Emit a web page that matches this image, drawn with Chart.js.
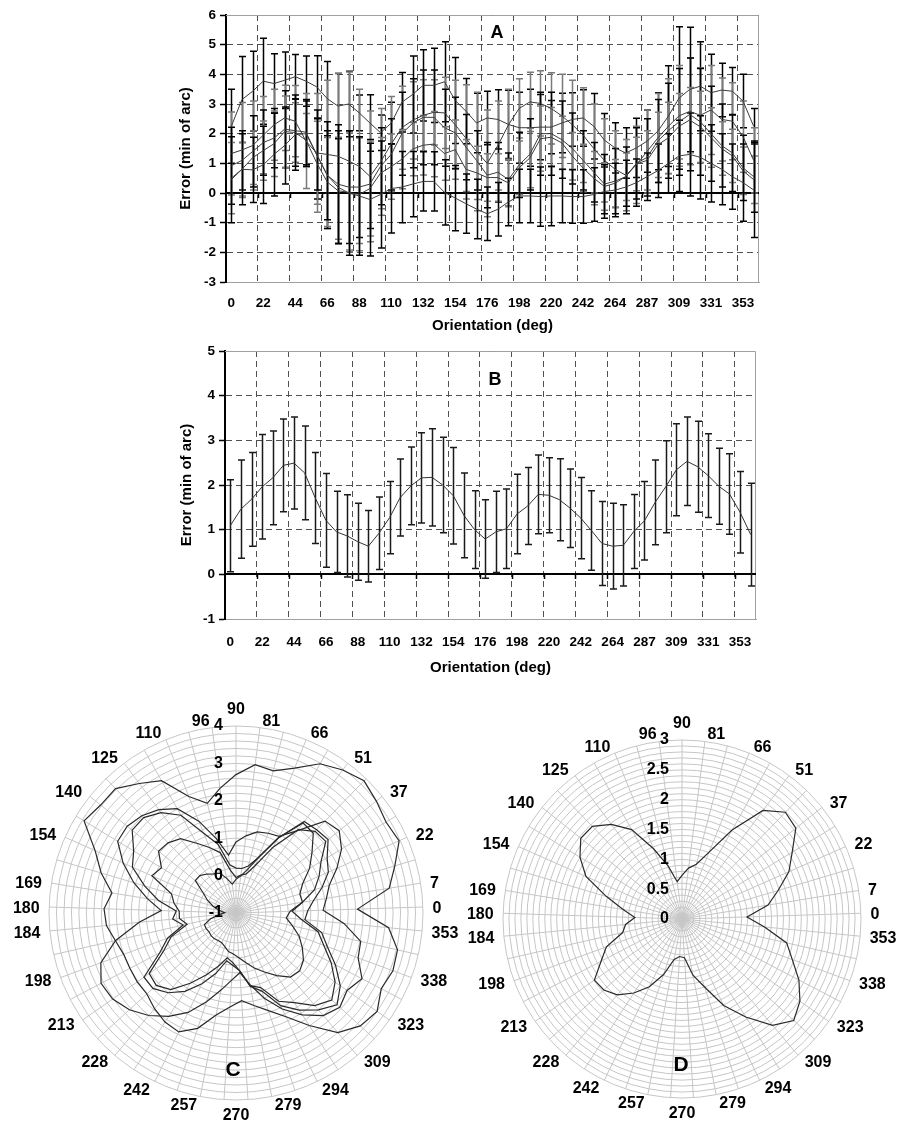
<!DOCTYPE html>
<html>
<head>
<meta charset="utf-8">
<script src="https://cdn.jsdelivr.net/npm/chart.js@4.4.1/dist/chart.umd.min.js"></script>
<style>
  html, body { margin: 0; padding: 0; background: #fff; overflow: hidden; }
  #page { position: relative; width: 899px; height: 1122px; }
  canvas { position: absolute; }
  .tag { position: absolute; font-family: "Liberation Sans", Arial, sans-serif; font-weight: bold;
         transform: translate(-50%, -50%); line-height: 1; }
</style>
</head>
<body>
<div id="page">
  <canvas id="chartA" width="601" height="339" style="left:173px;top:0px"></canvas>
  <canvas id="chartB" width="597" height="343" style="left:174px;top:338px"></canvas>
  <canvas id="chartC" width="474" height="442" style="left:0px;top:680px"></canvas>
  <canvas id="chartD" width="449" height="442" style="left:450px;top:680px"></canvas>
  <div class="tag" style="left:497px;top:32px;font-size:18px">A</div>
  <div class="tag" style="left:495px;top:379px;font-size:18px">B</div>
  <div class="tag" style="left:233px;top:1068px;font-size:21px">C</div>
  <div class="tag" style="left:681px;top:1063px;font-size:21px">D</div>
</div>
<script>
// Data ----------------------------------------------------------------------->
// orientation of each sample (deg), 0..360 in 50 steps
const orientation = [0, 7, 15, 22, 29, 37, 44, 51, 59, 66,
  73, 81, 88, 96, 103, 110, 118, 125, 132, 140,
  147, 154, 162, 169, 176, 184, 191, 198, 206, 213,
  220, 228, 235, 242, 250, 257, 264, 272, 279, 287,
  294, 301, 309, 316, 323, 331, 338, 345, 353, 360];

// panel A: one curve per observer
const obs1 = [2.25, 3.15, 3.43, 3.77, 3.69, 3.80, 3.92, 3.77, 3.58, 3.18,
  2.93, 3.00, 2.70, 2.36, 2.03, 2.36, 3.06, 3.32, 3.63, 3.63,
  3.75, 3.12, 2.76, 2.36, 2.53, 2.48, 2.31, 2.20, 2.20, 2.22,
  2.22, 2.36, 2.48, 2.53, 2.25, 1.78, 1.52, 1.35, 1.52, 1.75,
  2.08, 2.59, 3.20, 3.49, 3.60, 3.38, 3.47, 3.43, 3.10, 2.25];
const obs2 = [1.33, 1.45, 1.60, 1.95, 2.30, 2.53, 2.42, 1.75, 1.35, 1.30,
  1.24, 1.08, 0.90, 0.56, 1.05, 1.65, 2.20, 2.45, 2.62, 2.72,
  2.70, 2.30, 1.85, 1.40, 1.00, 1.60, 2.30, 2.85, 3.07, 3.02,
  2.85, 2.60, 2.30, 1.95, 1.50, 1.10, 0.80, 0.60, 0.95, 1.40,
  1.85, 2.25, 2.60, 2.75, 2.62, 2.80, 2.48, 2.42, 1.90, 1.10];
const obs3 = [0.92, 1.10, 1.40, 1.70, 1.85, 2.15, 2.10, 2.05, 1.30, 0.60,
  0.30, 0.20, 0.20, 0.30, 0.90, 1.30, 2.00, 2.35, 2.55, 2.55,
  2.20, 2.03, 1.55, 1.10, 0.60, 0.70, 0.45, 0.95, 1.30, 2.00,
  2.00, 1.80, 1.50, 1.10, 0.70, 0.30, 0.40, 0.55, 1.00, 1.20,
  1.75, 2.10, 2.40, 2.65, 2.40, 2.00, 1.60, 1.35, 0.85, 0.55];
const obs4 = [0.50, 0.80, 1.19, 1.43, 1.66, 2.07, 2.04, 1.78, 1.02, 0.37,
  0.08, 0.02, -0.05, 0.15, 0.67, 0.89, 1.14, 1.48, 1.61, 1.65,
  1.33, 1.46, 0.80, 0.68, 0.52, 0.52, 0.34, 0.85, 1.18, 1.83,
  1.88, 1.69, 1.24, 0.84, 0.50, 0.22, 0.33, 0.55, 0.98, 1.10,
  1.62, 1.86, 2.25, 2.46, 2.23, 1.87, 1.50, 1.25, 0.75, 0.45];
const obs5 = [0.45, 0.80, 0.78, 0.95, 1.30, 1.60, 1.97, 2.00, 1.30, 0.60,
  0.20, 0.00, -0.10, -0.22, -0.05, 0.15, 0.20, 0.30, 0.39, 0.39,
  0.02, -0.17, -0.36, -0.54, -0.70, -0.55, -0.30, -0.10, -0.10, -0.12,
  -0.10, -0.10, -0.12, -0.12, -0.05, 0.05, 0.10, 0.20, 0.35, 0.55,
  0.75, 1.00, 1.25, 1.30, 1.20, 1.00, 0.80, 0.55, 0.35, 0.10];

// panel A error bars (half length)
const err1 = [1.25, 1.45, 1.35, 1.45, 1.00, 0.95, 0.75, 0.85, 1.05, 1.25,
  1.10, 1.10, 0.60, 0.95, 0.60, 0.70, 1.00, 1.30, 1.20, 1.25,
  1.35, 1.45, 1.10, 1.00, 0.90, 1.00, 1.15, 1.20, 1.30, 1.10,
  0.90, 1.00, 0.90, 0.95, 1.10, 0.90, 0.85, 0.85, 1.00, 1.05,
  1.30, 1.70, 2.40, 2.10, 1.50, 1.30, 0.90, 0.80, 0.90, 0.60];
const err2 = [1.40, 1.60, 1.50, 1.30, 1.20, 1.10, 1.20, 1.60, 2.00, 2.50,
  2.80, 3.00, 2.60, 2.20, 1.80, 1.60, 1.40, 1.30, 1.20, 1.10,
  1.20, 1.50, 1.80, 2.00, 1.80, 1.50, 1.20, 1.00, 1.00, 1.10,
  1.20, 1.40, 1.50, 1.60, 1.50, 1.40, 1.30, 1.20, 1.30, 1.40,
  1.50, 1.60, 1.70, 1.80, 1.60, 1.50, 1.40, 1.30, 1.20, 1.10];
const err3 = [1.30, 1.00, 1.20, 1.10, 1.00, 1.30, 1.20, 1.10, 1.50, 1.80,
  2.00, 1.90, 1.70, 1.50, 1.30, 1.20, 1.40, 1.50, 1.60, 1.60,
  1.30, 1.20, 1.10, 1.00, 1.10, 1.00, 0.90, 1.10, 1.20, 1.40,
  1.40, 1.30, 1.20, 1.00, 1.00, 1.00, 1.10, 1.00, 1.20, 1.30,
  1.40, 1.60, 1.80, 1.90, 1.80, 1.60, 1.40, 1.30, 1.10, 1.20];
const err4 = [1.20, 0.90, 0.90, 1.00, 1.10, 1.20, 1.00, 0.90, 1.40, 1.50,
  1.80, 2.00, 1.90, 1.60, 1.20, 1.10, 1.00, 0.90, 1.00, 1.10,
  0.90, 1.00, 1.00, 0.90, 0.80, 0.80, 0.80, 0.90, 1.00, 1.10,
  1.00, 0.90, 0.80, 0.80, 0.90, 0.80, 0.80, 0.80, 0.90, 1.00,
  1.10, 1.20, 1.10, 1.10, 1.20, 1.00, 0.90, 0.90, 0.80, 0.80];
const err5 = [1.45, 1.20, 1.10, 1.30, 1.40, 1.30, 1.20, 1.10, 1.20, 1.50,
  1.90, 2.10, 2.00, 1.90, 1.80, 1.50, 1.20, 1.10, 1.00, 1.00,
  1.10, 1.10, 1.00, 1.00, 0.90, 0.90, 0.80, 0.90, 0.90, 1.00,
  1.00, 0.90, 0.90, 0.90, 0.90, 0.90, 0.90, 0.90, 0.80, 0.80,
  0.90, 1.00, 1.20, 1.40, 1.40, 1.30, 1.20, 1.10, 1.30, 1.60];

// panel B: mean over observers and its error
const meanErr = [1.09, 1.46, 1.68, 1.96, 2.16, 2.44, 2.49, 2.27, 1.71, 1.21,
  0.95, 0.86, 0.73, 0.63, 0.92, 1.27, 1.72, 1.98, 2.16, 2.17,
  2.00, 1.76, 1.32, 1.00, 0.79, 0.95, 1.02, 1.35, 1.53, 1.79,
  1.77, 1.67, 1.48, 1.26, 0.98, 0.69, 0.63, 0.65, 0.96, 1.20,
  1.61, 1.96, 2.34, 2.53, 2.41, 2.21, 1.97, 1.80, 1.39, 0.89];
const meanSd = [1.03, 1.10, 1.05, 1.17, 1.05, 1.04, 1.03, 1.05, 1.02, 1.05,
  0.91, 0.92, 0.86, 0.80, 0.81, 0.81, 0.86, 0.87, 1.01, 1.09,
  1.07, 1.08, 0.95, 0.87, 0.88, 0.91, 0.89, 0.89, 0.86, 0.88,
  0.84, 0.92, 0.88, 0.91, 0.89, 0.94, 0.96, 0.91, 0.83, 0.88,
  0.95, 1.03, 1.03, 0.99, 1.02, 0.94, 0.85, 0.90, 0.91, 1.15];

// polar panels: spoke names clockwise from the top, and ring values
const polarLabels = ['90', '81', '', '66', '', '51', '', '37', '', '22', '', '7', '0',
  '353', '', '338', '', '323', '', '309', '', '294', '', '279', '270', '', '257',
  '', '242', '', '228', '', '213', '', '198', '', '184', '180', '169', '', '154',
  '', '140', '', '125', '', '110', '', '96'];
const ringValsC = [-1, 0, 1, 2, 3, 4];
const ringTextC = ['-1', '0', '1', '2', '3', '4'];
const ringValsD = [0, 0.5, 1, 1.5, 2, 2.5, 3];
const ringTextD = ['0', '0.5', '1', '1.5', '2', '2.5', '3'];

// Helpers -------------------------------------------------------------------->
const FONT = '"Liberation Sans", Arial, sans-serif';

// sample shown on each polar spoke (top spoke = 88 deg, going clockwise)
const spokeIndex = [];
for (let i = 0; i < 49; i++) spokeIndex.push((12 - i + 49) % 49);
const toPolar = s => spokeIndex.map(j => s[j]);

// error bars drawn with the chart's own scales
const errorBars = {
  id: 'errorBars',
  beforeDatasetsDraw(chart) {
    const {ctx, scales: {x, y}} = chart;
    chart.data.datasets.forEach(ds => {
      if (!ds.errors) return;
      ctx.save();
      ctx.strokeStyle = ds.barColor;
      ctx.lineWidth = 1.5;
      ds.data.forEach((v, i) => {
        const px = Math.round(x.getPixelForValue(i)) + 0.5;
        const top = y.getPixelForValue(v + ds.errors[i]);
        const bot = y.getPixelForValue(v - ds.errors[i]);
        ctx.beginPath();
        ctx.moveTo(px, top); ctx.lineTo(px, bot);
        ctx.moveTo(px - 3.5, top); ctx.lineTo(px + 3.5, top);
        ctx.moveTo(px - 3.5, bot); ctx.lineTo(px + 3.5, bot);
        ctx.stroke();
      });
      ctx.restore();
    });
  }
};

// grey frame, solid zero line and its little tick marks
const plotFrame = {
  id: 'plotFrame',
  beforeDatasetsDraw(chart) {
    const {ctx, chartArea: a, scales: {x, y}} = chart;
    ctx.save();
    ctx.strokeStyle = '#a0a0a0';
    ctx.lineWidth = 1;
    ctx.beginPath();
    ctx.moveTo(a.left, a.top + 0.5); ctx.lineTo(a.right - 0.5, a.top + 0.5);
    ctx.lineTo(a.right - 0.5, a.bottom);
    ctx.stroke();
    const y0 = Math.round(y.getPixelForValue(0));
    ctx.strokeStyle = '#000';
    ctx.lineWidth = 2;
    ctx.beginPath();
    ctx.moveTo(a.left, y0); ctx.lineTo(a.right, y0);
    ctx.stroke();
    ctx.lineWidth = 1.5;
    ctx.beginPath();
    for (let k = 3; k < orientation.length; k += 3) {
      const gx = Math.round((x.getPixelForValue(k) + x.getPixelForValue(k - 1)) / 2) + 0.5;
      ctx.moveTo(gx, y0); ctx.lineTo(gx, y0 + 5);
    }
    ctx.stroke();
    ctx.restore();
  }
};

// ring values next to the top spoke, spoke names round the rim
const polarText = {
  id: 'polarText',
  afterDraw(chart, args, opts) {
    const r = chart.scales.r, ctx = chart.ctx;
    const R = r.drawingArea;
    ctx.save();
    ctx.font = 'bold 16px ' + FONT;
    ctx.fillStyle = '#000';
    ctx.textBaseline = 'middle';
    ctx.textAlign = 'right';
    opts.values.forEach((v, k) => {
      ctx.fillText(opts.labels[k], r.xCenter - 13, r.yCenter - r.getDistanceFromCenterForValue(v));
    });
    chart.data.labels.forEach((t, i) => {
      if (!t) return;
      const phi = r.getIndexAngle(i);
      const p = r.getPointPosition(i, R + 8);
      const sx = Math.sin(phi);
      if (Math.abs(sx) < 0.07) {
        ctx.textAlign = 'center';
        ctx.fillText(t, r.xCenter, p.y + (Math.cos(phi) > 0 ? -8 : 8));
      } else {
        ctx.textAlign = sx > 0 ? 'left' : 'right';
        ctx.fillText(t, p.x + (sx > 0 ? 1.5 : -1.5), p.y + 1.5);
      }
    });
    ctx.restore();
  }
};

function lineOptions(yMin, yMax, yWidth, xHeight, xPad, pad) {
  return {
    responsive: false,
    animation: false,
    layout: {padding: pad},
    plugins: {legend: {display: false}, tooltip: {enabled: false}},
    elements: {point: {radius: 0}, line: {tension: 0}},
    scales: {
      x: {
        type: 'category',
        offset: true,
        grid: {
          offset: true,
          drawTicks: false,
          lineWidth: 1,
          color: c => (c.index % 3 === 0 && c.index > 0 && c.index < orientation.length) ? '#505050' : 'transparent'
        },
        border: {display: true, color: '#a0a0a0', width: 1, dash: [6, 4]},
        ticks: {
          autoSkip: false, maxRotation: 0, minRotation: 0, padding: xPad, color: '#000',
          font: {family: FONT, size: 13.5, weight: 'bold'},
          callback: (v, i) => (i % 3 === 0 ? String(orientation[i]) : '')
        },
        title: {
          display: true, text: 'Orientation (deg)', color: '#000',
          font: {family: FONT, size: 15, weight: 'bold'}, padding: {top: 0, bottom: 4}
        },
        afterFit: s => { s.height = xHeight; }
      },
      y: {
        min: yMin, max: yMax,
        grid: {color: '#505050', lineWidth: 1, tickLength: 6, tickColor: '#000', tickWidth: 1.5},
        border: {display: true, color: '#000', width: 2, dash: [6, 4]},
        ticks: {stepSize: 1, padding: 4, color: '#000', font: {family: FONT, size: 13.5, weight: 'bold'}},
        title: {
          display: true, text: 'Error (min of arc)', color: '#000',
          font: {family: FONT, size: 15, weight: 'bold'}, padding: {top: 4, bottom: 0}
        },
        afterFit: s => { s.width = yWidth; }
      }
    }
  };
}

function radarOptions(min, max, step, ringVals, ringText, pad) {
  return {
    responsive: false,
    animation: false,
    layout: {padding: pad},
    plugins: {
      legend: {display: false}, tooltip: {enabled: false},
      polarText: {values: ringVals, labels: ringText}
    },
    elements: {point: {radius: 0}, line: {tension: 0, borderWidth: 1.2}},
    scales: {
      r: {
        min: min, max: max,
        ticks: {stepSize: step, display: false},
        grid: {circular: true, color: '#c6c6c6', lineWidth: 1},
        angleLines: {color: '#c6c6c6', lineWidth: 1},
        pointLabels: {display: false}
      }
    }
  };
}

// Panel A -------------------------------------------------------------------->
const observers = [obs1, obs2, obs3, obs4, obs5];
const obsErrors = [err1, err2, err3, err4, err5];
const barColors = ['#000', '#7a7a7a', '#000', '#7a7a7a', '#000'];

new Chart(document.getElementById('chartA'), {
  type: 'line',
  data: {
    labels: orientation,
    datasets: observers.map((s, k) => ({
      data: s, errors: obsErrors[k], barColor: barColors[k],
      borderColor: '#3c3c3c', borderWidth: 1, fill: false
    }))
  },
  options: lineOptions(-3, 6, 53, 57, 13, {left: 0, top: 15, right: 15, bottom: 0}),
  plugins: [plotFrame, errorBars]
});

// Panel B -------------------------------------------------------------------->
new Chart(document.getElementById('chartB'), {
  type: 'line',
  data: {
    labels: orientation,
    datasets: [{
      data: meanErr, errors: meanSd, barColor: '#1a1a1a',
      borderColor: '#333', borderWidth: 1, fill: false
    }]
  },
  options: lineOptions(-1, 5, 51, 62, 15, {left: 0, top: 13, right: 15, bottom: 0}),
  plugins: [plotFrame, errorBars]
});

// Panel C -------------------------------------------------------------------->
new Chart(document.getElementById('chartC'), {
  type: 'radar',
  data: {
    labels: polarLabels,
    datasets: observers.map(s => ({
      data: toPolar(s), borderColor: '#2a2a2a', backgroundColor: 'transparent', fill: false
    }))
  },
  options: radarOptions(-1, 4, 0.2, ringValsC, ringTextC, {left: 49, right: 50, top: 46, bottom: 21}),
  plugins: [polarText]
});

// Panel D -------------------------------------------------------------------->
new Chart(document.getElementById('chartD'), {
  type: 'radar',
  data: {
    labels: polarLabels,
    datasets: [{data: toPolar(meanErr), borderColor: '#2a2a2a', backgroundColor: 'transparent', fill: false}]
  },
  options: radarOptions(0, 3, 0.1, ringValsD, ringTextD, {left: 53, right: 38, top: 60, bottom: 24}),
  plugins: [polarText]
});
</script>
</body>
</html>
